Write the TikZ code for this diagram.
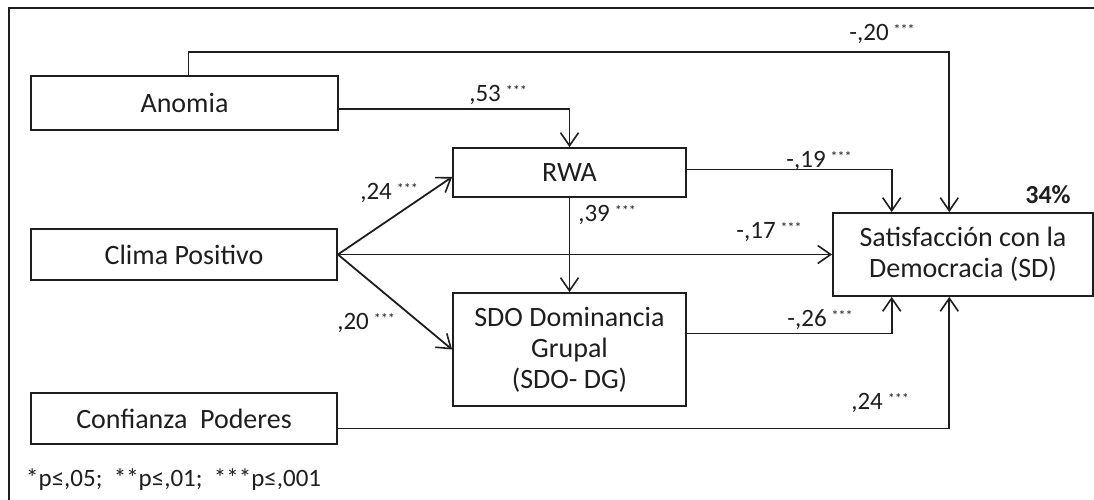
\documentclass[tikz,border=0pt]{standalone}
\usepackage{fontspec}
\setmainfont{Carlito}
\usetikzlibrary{arrows.meta,calc}
\definecolor{ink}{HTML}{1E1E1E}
\newcommand\lbl[1]{#1\hspace{5pt}{\fontsize{14}{14}\selectfont\raisebox{6pt}{***}}}
\tikzset{
  box/.style={draw=ink,line width=1.8pt,inner sep=0pt,align=center,
    font=\fontsize{28}{31}\selectfont,text=ink},
  arr/.style={draw=ink,line width=1.8pt,-{Straight Barb[length=13pt,width=18pt,line width=1.6pt]}},
  coef/.style={font=\fontsize{25}{25}\selectfont,text=ink,inner sep=0pt}
}
\begin{document}
\begin{tikzpicture}[x=1pt,y=-1pt]
\useasboundingbox (0,0) rectangle (1094,500);
\clip (0,0) rectangle (1094,500);
\draw[ink,line width=1.8pt] (9.3,520) -- (9.3,7.7) -- (1110,7.7);
% boxes
\node[box,minimum width=307pt,minimum height=54pt] (anomia) at (184.5,103) {Anomia};
\node[box,minimum width=306pt,minimum height=51pt] (clima) at (184,254.5) {Clima Positivo};
\node[box,minimum width=306pt,minimum height=51pt] (conf) at (184,418.5) {Conf{}ianza\ \ Poderes};
\node[box,minimum width=233pt,minimum height=49pt] (rwa) at (569.5,172.5) {RWA};
\node[box,minimum width=233pt,minimum height=113pt] (sdo) at (569.5,349.5) {SDO Dominancia\\Grupal\\(SDO- DG)};
\node[box,minimum width=260pt,minimum height=83pt] (sd) at (963,254.5) {Satisfacción con la\\Democracia (SD)};
% coordinates
\coordinate (t1) at (188.4,52);
\coordinate (t2) at (949.3,52);
\coordinate (c2) at (569.5,108.7);
\coordinate (c5) at (891.7,169.5);
\coordinate (c6) at (891.7,333.5);
\coordinate (c7) at (949.3,428.5);
% connectors
\draw[arr] (t1 |- anomia.north) -- (t1) -- (t2) -- (t2 |- sd.north);
\draw[arr] (anomia.east |- c2) -| (rwa.north);
\draw[arr] (clima.east) -- ([yshift=-4.5pt]rwa.west);
\draw[arr] (clima.east) -- (clima.east -| sd.west);
\draw[arr] (clima.east) -- (sdo.west);
\draw[arr] (rwa.south) -- (sdo.north);
\draw[arr] (rwa.east |- c5) -- (c5) -- (c5 |- sd.north);
\draw[arr] (sdo.east |- c6) -- (c6) -- (c6 |- sd.south);
\draw[arr] (conf.east |- c7) -- (c7) -- (c7 |- sd.south);
% labels
\node[coef] (l20a) at (882,34) {\lbl{-,20}};
\node[coef] (l53) at (498,95) {\lbl{,53}};
\node[coef] (l24a) at (389,193) {\lbl{,24}};
\node[coef] (l39) at (607,215) {\lbl{,39}};
\node[coef] (l19) at (819,161) {\lbl{-,19}};
\node[coef] (l17) at (769,232) {\lbl{-,17}};
\node[coef] (l20b) at (366,323) {\lbl{,20}};
\node[coef] (l26) at (820,320) {\lbl{-,26}};
\node[coef] (l24b) at (880,403) {\lbl{,24}};
\node[coef,font=\fontsize{26}{26}\bfseries\selectfont] (r2) at (1048,195) {34\%};
\node[coef,anchor=west] (note) at (26,480) {*p≤,05;\ \ **p≤,01;\ \ ***p≤,001};
\end{tikzpicture}
\end{document}
